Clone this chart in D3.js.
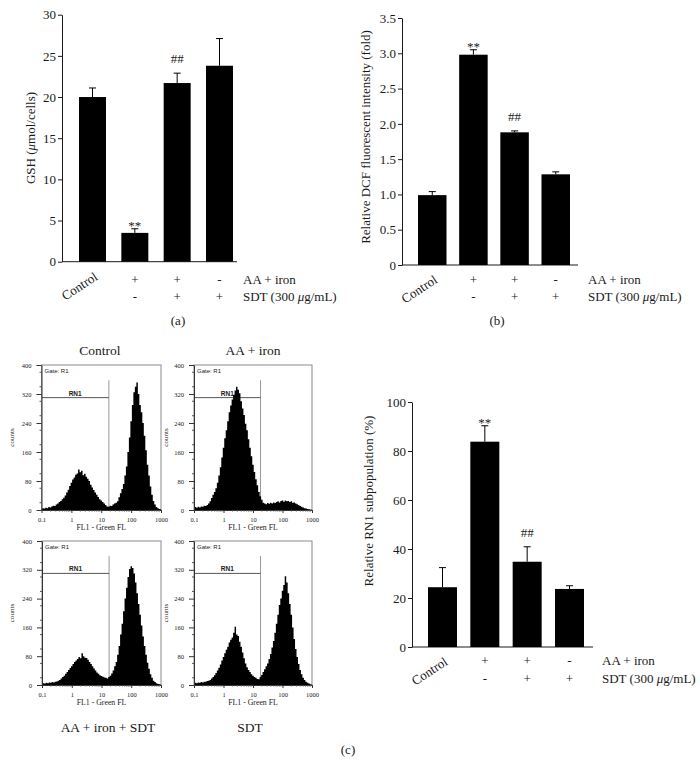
<!DOCTYPE html>
<html><head><meta charset="utf-8">
<script src="https://cdn.jsdelivr.net/npm/d3@7"></script>
<style>
body{margin:0;background:#fff}
svg{display:block}
text{font-family:"Liberation Serif","Times New Roman",serif;fill:#1a1a1a}
</style>
</head><body>
<svg id="chart" width="700" height="776"></svg>
<script>
// ---------- data ----------
const categories = ["Control", "AA + iron", "AA + iron + SDT", "SDT"];
const aaIronRow = ["", "+", "+", "-"];
const sdtRow = ["", "-", "+", "+"];

const gshMean = [20.0, 3.5, 21.7, 23.8];
const gshErr  = [1.1, 0.5, 1.2, 3.3];
const gshSig  = ["", "**", "##", ""];

const dcfMean = [0.99, 2.98, 1.88, 1.285];
const dcfErr  = [0.05, 0.07, 0.02, 0.035];
const dcfSig  = ["", "**", "##", ""];

const rn1Mean = [24.4, 83.8, 34.8, 23.7];
const rn1Err  = [8.0, 6.5, 6.1, 1.3];
const rn1Sig  = ["", "**", "##", ""];

const gshTicks = [0, 5, 10, 15, 20, 25, 30];
const dcfTicks = [0, 0.5, 1.0, 1.5, 2.0, 2.5, 3.0, 3.5];
const rn1Ticks = [0, 20, 40, 60, 80, 100];

// flow cytometry histograms: counts per 0.05-decade bin, from 0.1 to 1000
const histControl = [3,5,4,6,5,8,7,10,12,11,15,18,22,25,30,34,40,48,56,66,75,84,90,97,101,112,104,108,96,100,92,86,80,70,62,55,48,42,36,30,26,22,18,14,10,9,12,11,15,18,20,24,35,46,58,72,95,120,160,200,245,290,325,340,352,320,290,270,240,205,165,125,95,65,42,25,15,8,5,3,2];
const histAAIron = [5,8,6,9,7,10,9,12,11,14,18,24,33,42,50,60,75,95,118,145,172,198,220,245,270,288,305,318,330,340,332,322,300,280,262,238,220,195,172,148,125,105,85,68,50,38,28,20,18,16,19,17,20,18,21,19,22,24,21,25,26,23,26,24,25,22,24,20,21,18,16,14,11,9,7,5,4,3,2,1,1];
const histAAIronSDT = [3,5,4,6,5,7,6,8,7,9,10,12,14,18,22,26,31,36,42,47,52,58,64,68,72,78,74,88,80,76,75,70,64,58,52,46,40,35,31,27,25,23,21,20,18,22,26,32,40,52,64,84,108,140,170,205,240,270,300,322,330,325,310,285,255,225,195,165,135,108,84,62,45,30,20,12,8,5,3,2,1];
const histSDT = [4,6,5,7,6,8,7,9,9,11,12,14,18,22,27,33,40,48,57,68,78,88,98,106,118,126,132,145,162,140,136,120,106,90,74,60,49,42,36,30,26,22,20,17,16,22,28,36,44,52,60,72,86,104,122,145,170,195,222,240,262,278,302,285,255,225,195,160,128,100,78,58,42,30,20,14,9,6,4,2,1];
const histYTicks = [0, 80, 160, 240, 320, 400];
const histXTicks = [0.1, 1, 10, 100, 1000];
const gateValue = 18;
const rn1Level = 310;
const gateTop = 358;

// ---------- drawing ----------
const svg = d3.select("#chart");
const INK = "#1a1a1a";

function barChart(o) {
  const g = svg.append("g");
  const y = d3.scaleLinear().domain(o.yDomain).range([o.y0, o.y1]);
  const step = (o.lastRight - o.firstLeft - o.bw) / 3;
  const pi = 1 - o.bw / step;
  const start = o.firstLeft - step * pi / 2;
  const x = d3.scaleBand().domain(categories).range([start, start + 4 * step])
    .paddingInner(pi).paddingOuter(pi / 2);

  const ax = g.append("g").attr("transform", `translate(${o.axisX},0)`)
    .call(d3.axisLeft(y).tickValues(o.ticks).tickFormat(o.fmt).tickSize(4).tickPadding(2).tickSizeOuter(0));
  ax.selectAll("path,line").attr("stroke", INK);
  ax.selectAll("text").style("font-size", "13px").attr("fill", INK);

  g.append("line").attr("x1", o.axisX).attr("x2", o.axisEnd)
    .attr("y1", y(0)).attr("y2", y(0)).attr("stroke", INK);

  categories.forEach((c, i) => {
    const cx = x(c) + x.bandwidth() / 2;
    g.append("rect").attr("x", x(c)).attr("width", x.bandwidth())
      .attr("y", y(o.mean[i])).attr("height", y(0) - y(o.mean[i])).attr("fill", "#000");
    const top = y(o.mean[i] + o.err[i]);
    g.append("line").attr("x1", cx).attr("x2", cx).attr("y1", y(o.mean[i])).attr("y2", top).attr("stroke", "#000");
    g.append("line").attr("x1", cx - 3.5).attr("x2", cx + 3.5).attr("y1", top).attr("y2", top).attr("stroke", "#000");
    if (o.sig[i]) {
      const yy = o.sig[i] === "**" ? top + 1 : top - 10;
      g.append("text").attr("x", cx).attr("y", yy).attr("text-anchor", "middle")
        .style("font-size", "13px").text(o.sig[i]);
    }
    if (i === 0) {
      g.append("text").attr("text-anchor", "end")
        .attr("transform", `translate(${cx + 6},${o.controlY}) rotate(-33)`)
        .style("font-size", "13px").text(c);
    } else {
      g.append("text").attr("x", cx).attr("y", o.row1).attr("text-anchor", "middle").style("font-size", "13px").text(aaIronRow[i]);
      g.append("text").attr("x", cx).attr("y", o.row2).attr("text-anchor", "middle").style("font-size", "13px").text(sdtRow[i]);
    }
  });
  g.append("text").attr("x", o.labelX).attr("y", o.row1).style("font-size", "13px").text("AA + iron");
  const t = g.append("text").attr("x", o.labelX).attr("y", o.row2).style("font-size", "13px");
  t.append("tspan").text("SDT (300 ");
  t.append("tspan").style("font-style", "italic").text("μ");
  t.append("tspan").text("g/mL)");

  const yt = g.append("text").attr("text-anchor", "middle")
    .attr("transform", `translate(${o.titleX},${o.titleY}) rotate(-90)`)
    .attr("dy", "0.35em").style("font-size", "13px");
  o.title.forEach(p => yt.append("tspan").style("font-style", p.it ? "italic" : "normal").text(p.s));

  if (o.caption) {
    g.append("text").attr("x", o.caption[1]).attr("y", o.caption[2]).attr("text-anchor", "middle")
      .style("font-size", "13px").text(o.caption[0]);
  }
}

barChart({
  mean: gshMean, err: gshErr, sig: gshSig, yDomain: [0, 30], y0: 261.7, y1: 14.7,
  axisX: 62, axisEnd: 237, firstLeft: 79, lastRight: 233, bw: 27,
  ticks: gshTicks, fmt: d3.format("d"),
  title: [{s: "GSH ("}, {s: "μ", it: true}, {s: "mol/cells)"}], titleX: 30, titleY: 138,
  row1: 284, row2: 301, controlY: 279, labelX: 243, caption: ["(a)", 178, 325]
});
barChart({
  mean: dcfMean, err: dcfErr, sig: dcfSig, yDomain: [0, 3.5], y0: 265, y1: 18,
  axisX: 402, axisEnd: 578, firstLeft: 418, lastRight: 570, bw: 28.5,
  ticks: dcfTicks, fmt: d => d === 0 ? "0" : d3.format(".1f")(d),
  title: [{s: "Relative DCF fluorescent intensity (fold)"}], titleX: 365, titleY: 137,
  row1: 284, row2: 300.5, controlY: 282, labelX: 588, caption: ["(b)", 497, 325]
});
barChart({
  mean: rn1Mean, err: rn1Err, sig: rn1Sig, yDomain: [0, 100], y0: 647, y1: 402,
  axisX: 412, axisEnd: 593, firstLeft: 428, lastRight: 584, bw: 29,
  ticks: rn1Ticks, fmt: d3.format("d"),
  title: [{s: "Relative RN1 subpopulation (%)"}], titleX: 368, titleY: 501,
  row1: 665, row2: 683, controlY: 664, labelX: 602, caption: null
});

svg.append("text").attr("x", 348).attr("y", 754).attr("text-anchor", "middle")
  .style("font-size", "13px").text("(c)");

function hist(o, vals) {
  const g = svg.append("g");
  const x = d3.scaleLog().domain([0.1, 1000]).range([o.left, o.right]);
  const y = d3.scaleLinear().domain([0, 400]).range([o.bottom, o.top]);
  g.append("rect").attr("x", o.left).attr("y", o.top).attr("width", o.right - o.left)
    .attr("height", o.bottom - o.top).attr("fill", "none").attr("stroke", "#8a8a8a");
  g.append("text").attr("x", o.left + 3).attr("y", o.top + 8)
    .style("font-family", "Liberation Sans, Arial, sans-serif").style("font-size", "6px").attr("fill", "#333").text("Gate: R1");
  const gx = x(gateValue);
  g.append("line").attr("x1", gx).attr("x2", gx).attr("y1", y(gateTop)).attr("y2", y(0)).attr("stroke", "#999");
  g.append("line").attr("x1", o.left).attr("x2", gx).attr("y1", y(rn1Level)).attr("y2", y(rn1Level)).attr("stroke", "#555");
  g.append("text").attr("x", (o.left + gx) / 2).attr("y", y(rn1Level) - 2).attr("text-anchor", "middle")
    .style("font-family", "Liberation Sans, Arial, sans-serif").style("font-size", "6.5px").style("font-weight", "bold")
    .attr("fill", "#333").text("RN1");

  const data = vals.map((c, i) => ({v: Math.pow(10, -1 + i * 0.05), c}));
  const area = d3.area().x(d => x(d.v)).y0(y(0)).y1(d => y(d.c)).curve(d3.curveStep);
  g.append("path").datum(data).attr("d", area).attr("fill", "#000");

  const ya = g.append("g").attr("transform", `translate(${o.left},0)`)
    .call(d3.axisLeft(y).tickValues(histYTicks).tickSize(5).tickPadding(5).tickSizeOuter(0));
  ya.selectAll("path,line").attr("stroke", "#333");
  ya.selectAll("text").style("font-size", "6.5px").attr("fill", "#333");
  d3.range(20, 400, 40).forEach(v => {
    g.append("line").attr("x1", o.left - 2).attr("x2", o.left).attr("y1", y(v)).attr("y2", y(v)).attr("stroke", "#555");
  });
  const xa = g.append("g").attr("transform", `translate(0,${o.bottom})`)
    .call(d3.axisBottom(x).tickValues(histXTicks).tickFormat(d => String(d)).tickSize(3).tickPadding(4).tickSizeOuter(0));
  xa.selectAll("path,line").attr("stroke", "#333");
  xa.selectAll("text").style("font-size", "6.5px").attr("fill", "#333");
  [0.1, 1, 10, 100].forEach(dec => {
    [2, 3, 4, 5, 6, 7, 8, 9].forEach(m => {
      const px = x(dec * m);
      g.append("line").attr("x1", px).attr("x2", px).attr("y1", o.bottom).attr("y2", o.bottom + 1.5).attr("stroke", "#555");
    });
  });
  g.append("text").attr("x", (o.left + o.right) / 2).attr("y", o.bottom + 20).attr("text-anchor", "middle")
    .style("font-size", "7.8px").attr("fill", "#333").text("FL1 - Green FL");
  g.append("text").attr("text-anchor", "middle")
    .attr("transform", `translate(${o.countsX},${(o.top + o.bottom) / 2}) rotate(-90)`)
    .attr("dy", "0.35em").style("font-size", "7px").attr("fill", "#333").text("counts");
  g.append("text").attr("x", o.titleX).attr("y", o.titleY).attr("text-anchor", "middle")
    .style("font-size", "13.5px").text(o.title);
}

hist({left: 41.5, right: 161, top: 365, bottom: 510, title: "Control", titleX: 100, titleY: 355, countsX: 12}, histControl);
hist({left: 194, right: 312, top: 365, bottom: 510, title: "AA + iron", titleX: 253, titleY: 355, countsX: 166}, histAAIron);
hist({left: 42, right: 161, top: 541, bottom: 685, title: "AA + iron + SDT", titleX: 108, titleY: 732, countsX: 12}, histAAIronSDT);
hist({left: 194, right: 312, top: 541, bottom: 685, title: "SDT", titleX: 250, titleY: 732, countsX: 166}, histSDT);
</script>
</body></html>
